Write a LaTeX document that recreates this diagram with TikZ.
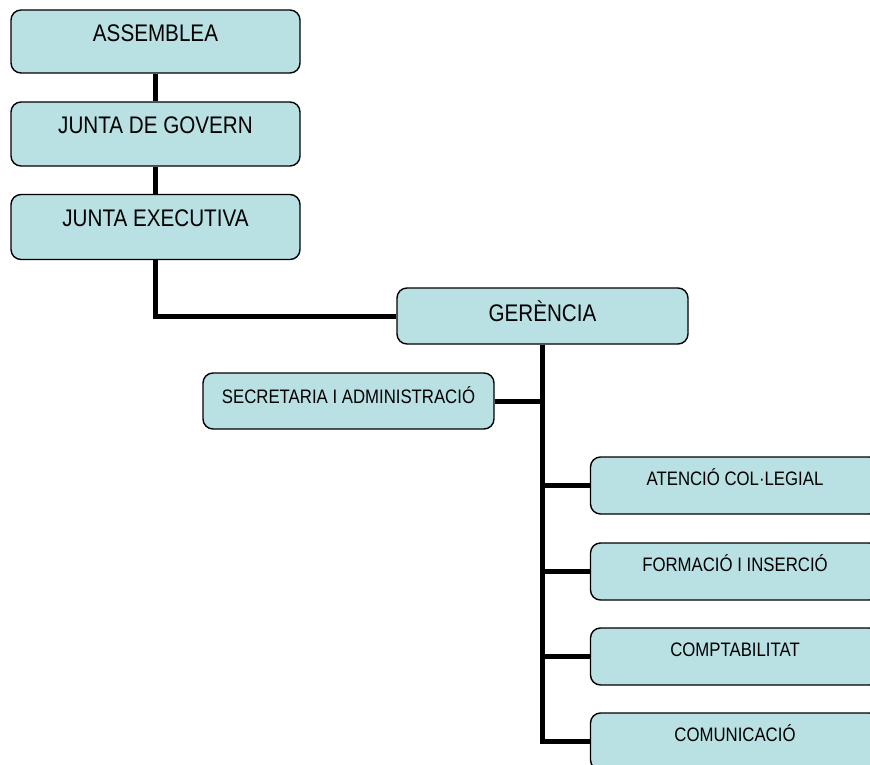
\documentclass[tikz,border=0pt]{standalone}
\usepackage{fontspec}
\setmainfont[FakeStretch=0.86]{Liberation Sans}
\usepackage{tikz}
\usepackage{xcolor}
\definecolor{boxfill}{RGB}{185,224,227}

\begin{document}
\begin{tikzpicture} [x=1pt, y=-1pt,
	caixa/.style={draw, line width=1.4pt, fill=boxfill, rounded corners=10pt,
		inner xsep=0pt, inner ysep=0pt, minimum width=289pt},
	gran/.style={caixa, font=\fontsize{24}{28}\selectfont},
	petita/.style={caixa, font=\fontsize{19.5}{23}\selectfont},
	linia/.style={line width=5pt}]
		\clip (0, 0) rectangle (870, 765);
		% organs de govern
		\node[gran, text height=31.5pt, text depth=31.5pt] (asm) at (155.5, 41.5) {ASSEMBLEA};
		\node[gran, text height=32pt, text depth=32pt] (gov) at (155.5, 134) {JUNTA DE GOVERN};
		\node[gran, text height=32pt, text depth=33pt] (exe) at (155.5, 227) {JUNTA EXECUTIVA};
		\node[gran, minimum width=291pt, text height=33pt, text depth=23pt] (ger) at (542.5, 316) {GERÈNCIA};
		% departaments
		\node[petita, minimum width=291pt, text height=30pt, text depth=26pt] (sec) at (348.5, 401) {SECRETARIA I ADMINISTRACIÓ};
		\node[petita, text height=28pt, text depth=29pt] (ate) at (735, 485.5) {ATENCIÓ COL·LEGIAL};
		\node[petita, text height=28pt, text depth=29pt] (for) at (735, 571.5) {FORMACIÓ I INSERCIÓ};
		\node[petita, text height=28pt, text depth=29pt] (cpt) at (735, 656.5) {COMPTABILITAT};
		\node[petita, text height=28pt, text depth=29pt] (com) at (735, 741.5) {COMUNICACIÓ};
			\draw[linia] (asm) -- (gov);
			\draw[linia] (gov) -- (exe);
			\draw[linia] (exe.south) |- (ger.west);
			\draw[linia] (ger.south) |- (com.west);
				\draw[linia] (ger.south |- sec.east) -- (sec.east);
				\draw[linia] (ger.south |- ate.west) -- (ate.west);
				\draw[linia] (ger.south |- for.west) -- (for.west);
				\draw[linia] (ger.south |- cpt.west) -- (cpt.west);
	\end{tikzpicture}
\end{document}
